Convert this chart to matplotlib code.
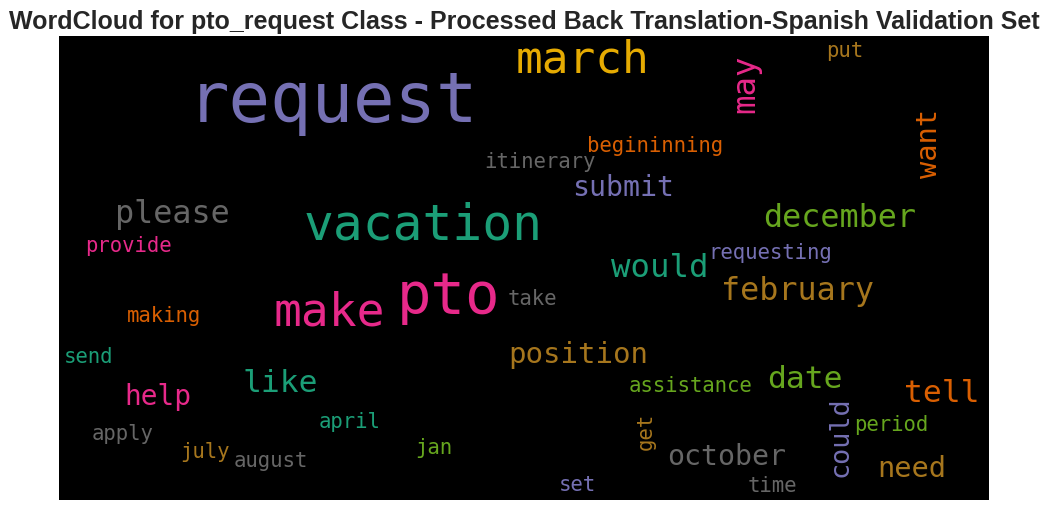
import matplotlib.pyplot as plt

# word cloud content: words, relative weights, Dark2 colour index
words = ["request", "pto", "vacation", "make", "march",
         "please", "would", "may", "february", "december",
         "like", "date", "tell", "position", "want",
         "need", "october", "submit", "help", "could",
         "provide", "itinerary", "begininning", "put", "requesting",
         "take", "making", "send", "april", "apply",
         "july", "august", "jan", "assistance", "period",
         "get", "set", "time"]
weights = [1.00, 0.83, 0.72, 0.67, 0.645,
           0.46, 0.47, 0.47, 0.46, 0.46,
           0.455, 0.455, 0.455, 0.42, 0.415,
           0.415, 0.41, 0.41, 0.405, 0.39,
           0.30, 0.30, 0.30, 0.30, 0.30,
           0.30, 0.30, 0.30, 0.30, 0.30,
           0.30, 0.30, 0.30, 0.30, 0.30,
           0.30, 0.30, 0.30]
color_idx = [2, 3, 0, 3, 5,
             7, 0, 3, 6, 4,
             0, 4, 1, 6, 1,
             6, 7, 2, 3, 2,
             3, 7, 1, 6, 2,
             7, 1, 0, 0, 7,
             6, 7, 4, 4, 4,
             6, 2, 7]

# layout on the 930x464 canvas (baseline centre of each word)
pos_x = [274.5, 389, 364, 270.5, 523,
         113.5, 600.5, 695, 738.5, 781,
         221, 746, 882.5, 519, 878,
         852.5, 668, 564.5, 98.5, 789,
         69, 481, 596, 785.5, 711,
         473.5, 104.5, 30, 291, 63.5,
         145.5, 211.5, 374.5, 631.5, 832.5,
         593, 518.5, 713]
pos_y = [86, 277, 203, 289, 36,
         187, 241, 47.5, 264, 191,
         356, 352, 366, 327, 107,
         441, 429, 160, 369, 401,
         216, 132, 116, 21, 223,
         269, 286, 327, 392, 404,
         422, 431, 418, 356, 395,
         395, 455, 456]
vertical = {"may", "want", "could", "get"}

dark2 = ["#1b9e77", "#d95f02", "#7570b3", "#e7298a",
         "#66a61e", "#e6ab02", "#a6761d", "#666666"]

W, H = 930, 464
dpi = 100
max_px = 69

fig = plt.figure(figsize=(10.48, 5.11), dpi=dpi)
ax = fig.add_axes([59 / 1048, 1 - 500 / 511, W / 1048, H / 511])
ax.set_facecolor("black")
ax.set_xlim(0, W)
ax.set_ylim(H, 0)
ax.set_xticks([])
ax.set_yticks([])
for s in ax.spines.values():
    s.set_visible(False)

for w, wt, ci, x, y in zip(words, weights, color_idx, pos_x, pos_y):
    ax.text(x, y, w, fontsize=wt * max_px * 72 / dpi, color=dark2[ci],
            family="DejaVu Sans Mono", ha="center", va="baseline",
            rotation=90 if w in vertical else 0, rotation_mode="anchor")

ax.set_title("WordCloud for pto_request Class - Processed Back Translation-Spanish Validation Set",
             fontsize=18, fontweight="bold", color="#262626", pad=5,
             family=["Liberation Sans", "DejaVu Sans"])

fig.savefig("out.png", dpi=dpi)
